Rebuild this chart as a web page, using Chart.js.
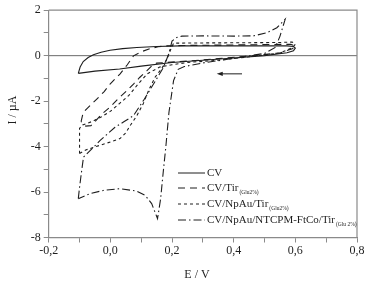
<!DOCTYPE html>
<html>
<head>
<meta charset="utf-8">
<script src="https://cdn.jsdelivr.net/npm/chart.js@4.4.0/dist/chart.umd.min.js"></script>
<style>
  html, body { margin: 0; padding: 0; background: #fff; }
  #wrap { width: 368px; height: 285px; position: relative; }
</style>
</head>
<body>
<div id="wrap"><canvas id="cv-chart"></canvas></div>
<script>
// values: potential E (V) and current I (uA)
const cvE = [-0.104, -0.098, -0.088, -0.072, -0.055, -0.03, -0.001, 0.04, 0.086, 0.15, 0.226, 0.35, 0.5, 0.573, 0.594, 0.6, 0.594, 0.573, 0.5, 0.4, 0.3, 0.2, 0.1, 0.03, -0.05, -0.104];
const cvI = [-0.78, -0.5, -0.26, -0.08, 0.04, 0.15, 0.24, 0.31, 0.36, 0.4, 0.43, 0.43, 0.43, 0.43, 0.4, 0.33, 0.22, 0.13, 0.0, -0.1, -0.2, -0.3, -0.46, -0.59, -0.68, -0.78];

const tirE = [-0.095, -0.088, -0.066, -0.044, -0.02, -0.001, 0.015, 0.031, 0.055, 0.075, 0.1, 0.129, 0.155, 0.178, 0.25, 0.4, 0.52, 0.585, 0.6, 0.59, 0.55, 0.45, 0.35, 0.25, 0.18, 0.15, 0.134, 0.118, 0.095, 0.075, 0.053, 0.025, 0.0, -0.03, -0.047, -0.063, -0.08, -0.095];
const tirI = [-2.9, -2.49, -2.2, -1.91, -1.58, -1.25, -1.03, -0.81, -0.4, -0.01, 0.17, 0.31, 0.39, 0.43, 0.45, 0.47, 0.49, 0.5, 0.42, 0.3, 0.12, -0.02, -0.13, -0.24, -0.3, -0.33, -0.45, -0.67, -0.96, -1.25, -1.55, -1.9, -2.25, -2.6, -2.86, -3.08, -3.1, -2.9];

const npE = [-0.1, -0.08, -0.056, -0.012, 0.031, 0.05, 0.064, 0.086, 0.107, 0.125, 0.145, 0.16, 0.172, 0.185, 0.195, 0.205, 0.3, 0.45, 0.55, 0.59, 0.6, 0.59, 0.55, 0.45, 0.35, 0.25, 0.2, 0.16, 0.12, 0.09, 0.06, 0.03, 0.0, -0.03, -0.06, -0.09, -0.1, -0.1];
const npI = [-4.3, -4.15, -4.04, -3.85, -3.65, -3.4, -3.08, -2.64, -2.1, -1.5, -0.95, -0.68, -0.45, -0.1, 0.25, 0.55, 0.56, 0.57, 0.58, 0.6, 0.5, 0.35, 0.12, -0.05, -0.2, -0.3, -0.4, -0.5, -0.8, -1.25, -1.75, -2.1, -2.45, -2.7, -2.9, -3.05, -3.2, -4.3];

const ntE = [-0.104, -0.1, -0.093, -0.087, -0.06, -0.033, 0.015, 0.045, 0.075, 0.107, 0.14, 0.172, 0.189, 0.2, 0.215, 0.232, 0.3, 0.4, 0.464, 0.508, 0.54, 0.567, 0.55, 0.535, 0.5, 0.4, 0.3, 0.24, 0.22, 0.205, 0.19, 0.18, 0.172, 0.163, 0.153, 0.134, 0.113, 0.086, 0.031, -0.023, -0.066, -0.104];
const ntI = [-6.29, -5.8, -5.05, -4.46, -4.1, -3.73, -3.15, -2.9, -2.64, -1.98, -1.25, -0.52, 0.06, 0.64, 0.8, 0.86, 0.87, 0.86, 0.87, 1.01, 1.23, 1.6, 0.85, 0.36, 0.1, -0.12, -0.32, -0.48, -0.6, -1.1, -2.5, -4.0, -5.05, -6.3, -7.17, -6.51, -6.15, -5.96, -5.85, -5.93, -6.07, -6.29];

const seriesNames = ['CV', 'CV/Tir', 'CV/NpAu/Tir', 'CV/NpAu/NTCPM-FtCo/Tir'];
const seriesSubs = ['', '(Glu2%)', '(Glu2%)', '(Glu 2%)'];
const seriesDash = [[], [7, 5], [3, 3], [8, 3, 1.5, 3]];

// sweep direction arrow (data units)
const arrowFrom = [0.427, -0.8];
const arrowTo = [0.345, -0.8];

const SERIF = '"Liberation Serif", "DejaVu Serif", serif';
const INK = '#1e1e1e';
const AXIS = '#8a8a8a';

function toPoints(xs, ys) {
    return xs.map((x, i) => ({ x: x, y: ys[i] }));
}

const allE = [cvE, tirE, npE, ntE];
const allI = [cvI, tirI, npI, ntI];

const datasets = seriesNames.map((name, i) => ({
    label: name,
    data: toPoints(allE[i], allI[i]),
    showLine: true,
    borderColor: INK,
    borderWidth: 1.1,
    borderDash: seriesDash[i],
    pointRadius: 0,
    tension: 0,
    fill: false
}));

const extras = {
    id: 'extras',
    beforeDatasetsDraw(chart) {
        const { ctx, chartArea, scales } = chart;
        const y0 = scales.y.getPixelForValue(0);
        ctx.save();
        ctx.strokeStyle = '#6a6a6a';
        ctx.lineWidth = 1;
        ctx.beginPath();
        ctx.moveTo(chartArea.left, y0);
        ctx.lineTo(chartArea.right, y0);
        ctx.stroke();
        ctx.restore();
    },
    afterDraw(chart) {
        const { ctx, chartArea, scales } = chart;
        ctx.save();

        // frame top + right
        ctx.strokeStyle = AXIS;
        ctx.lineWidth = 1.2;
        ctx.beginPath();
        ctx.moveTo(chartArea.left, chartArea.top);
        ctx.lineTo(chartArea.right, chartArea.top);
        ctx.lineTo(chartArea.right, chartArea.bottom);
        ctx.stroke();

        // arrow
        const ax1 = scales.x.getPixelForValue(arrowFrom[0]);
        const ax2 = scales.x.getPixelForValue(arrowTo[0]);
        const ay = scales.y.getPixelForValue(arrowFrom[1]);
        ctx.strokeStyle = INK;
        ctx.fillStyle = INK;
        ctx.lineWidth = 1;
        ctx.beginPath();
        ctx.moveTo(ax1, ay);
        ctx.lineTo(ax2 + 4, ay);
        ctx.stroke();
        ctx.beginPath();
        ctx.moveTo(ax2, ay);
        ctx.lineTo(ax2 + 6, ay - 2.2);
        ctx.lineTo(ax2 + 6, ay + 2.2);
        ctx.closePath();
        ctx.fill();

        // legend
        const lx0 = 178, lx1 = 205, tx = 207;
        const rows = [173, 188, 204, 220];
        ctx.textBaseline = 'middle';
        ctx.textAlign = 'left';
        seriesNames.forEach((name, i) => {
            ctx.setLineDash(seriesDash[i]);
            ctx.beginPath();
            ctx.moveTo(lx0, rows[i]);
            ctx.lineTo(lx1, rows[i]);
            ctx.stroke();
            ctx.setLineDash([]);
            ctx.font = '11px ' + SERIF;
            ctx.fillText(name, tx, rows[i]);
            if (seriesSubs[i]) {
                const w = ctx.measureText(name).width;
                ctx.font = '5.5px ' + SERIF;
                ctx.fillText(seriesSubs[i], tx + w + 1, rows[i] + 5);
            }
        });

        // axis titles
        ctx.font = '12px ' + SERIF;
        ctx.textAlign = 'center';
        ctx.fillText('E / V', 197, 275);
        ctx.translate(13, 110);
        ctx.rotate(-Math.PI / 2);
        ctx.fillText('I / µA', 0, 0);
        ctx.restore();
    }
};

function fmtX(value) {
    const v = Math.round(value * 10);
    if (v % 2 !== 0) return '';
    return (v / 10).toFixed(1).replace('.', ',');
}

function fmtY(value) {
    const v = Math.round(value);
    if (v % 2 !== 0) return '';
    return String(v);
}

const ctx = document.getElementById('cv-chart').getContext('2d');
const chart = new Chart(ctx, {
    type: 'scatter',
    data: { datasets: datasets },
    options: {
        responsive: true,
        maintainAspectRatio: false,
        animation: false,
        layout: { padding: { top: 9, right: 11, left: 0, bottom: 0 } },
        plugins: {
            legend: { display: false },
            tooltip: { enabled: false }
        },
        scales: {
            x: {
                type: 'linear',
                min: -0.2,
                max: 0.8,
                afterFit(scale) { scale.height = 47.5; },
                ticks: {
                    stepSize: 0.1,
                    autoSkip: false,
                    maxRotation: 0,
                    padding: 1,
                    color: INK,
                    font: { family: SERIF, size: 12 },
                    callback: fmtX
                },
                grid: { drawOnChartArea: false, drawTicks: true, tickLength: 5, color: AXIS },
                border: { display: true, color: AXIS, width: 1.2 }
            },
            y: {
                type: 'linear',
                min: -8,
                max: 2,
                afterFit(scale) { scale.width = 48.7; },
                ticks: {
                    stepSize: 1,
                    autoSkip: false,
                    padding: 3,
                    color: INK,
                    font: { family: SERIF, size: 12 },
                    callback: fmtY
                },
                grid: { drawOnChartArea: false, drawTicks: true, tickLength: 5, color: AXIS },
                border: { display: true, color: AXIS, width: 1.2 }
            }
        }
    },
    plugins: [extras]
});
</script>
</body>
</html>
